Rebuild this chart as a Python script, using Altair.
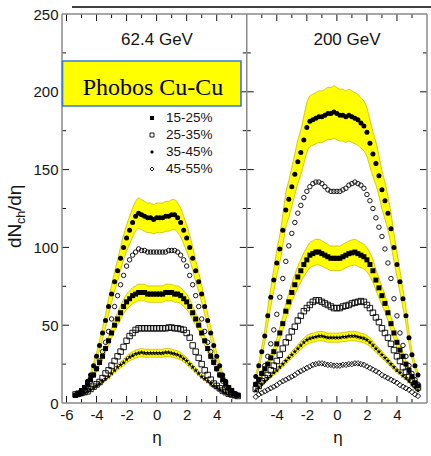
import altair as alt
import pandas as pd

# ---------------- data ----------------
ETA = [-5.4, -5.2, -5.0, -4.8, -4.6, -4.4, -4.2, -4.0, -3.8, -3.6, -3.4, -3.2, -3.0, -2.8,
       -2.6, -2.4, -2.2, -2.0, -1.8, -1.6, -1.4, -1.2, -1.0, -0.8, -0.6, -0.4, -0.2, 0.0,
       0.2, 0.4, 0.6, 0.8, 1.0, 1.2, 1.4, 1.6, 1.8, 2.0, 2.2, 2.4, 2.6, 2.8, 3.0, 3.2,
       3.4, 3.6, 3.8, 4.0, 4.2, 4.4, 4.6, 4.8, 5.0, 5.2, 5.4]

# 62.4 GeV panel
L_FILLED_CIRCLE = [5, 6, 8, 10, 14, 18, 24, 30, 37, 45, 53, 62, 70, 78, 85, 93, 100, 106, 111, 116,
                   120, 122, 121, 120, 119, 119, 118, 119, 119, 119, 120, 120, 121, 121, 119, 116,
                   111, 106, 100, 93, 85, 78, 70, 62, 53, 45, 37, 30, 24, 18, 14, 10, 8, 6, 5]
L_OPEN_CIRCLE = [5, 6, 7, 9, 11, 14, 18, 22, 27, 33, 39, 46, 54, 62, 69, 76, 82, 88, 92, 95, 97, 99,
                 98, 98, 97, 97, 97, 97, 97, 97, 97, 98, 98, 98, 97, 95, 92, 88, 82, 76, 69, 62, 54,
                 46, 39, 33, 27, 22, 18, 14, 11, 9, 7, 6, 5]
L_FILLED_SQUARE = [5, 6, 8, 10, 12, 15, 18, 22, 26, 30, 35, 40, 45, 50, 54, 58, 62, 65, 67, 69, 70,
                   71, 71, 71, 70, 70, 70, 70, 70, 70, 71, 71, 71, 70, 70, 69, 67, 65, 62, 58, 54,
                   50, 45, 40, 35, 30, 26, 22, 18, 15, 12, 10, 8, 6, 5]
L_OPEN_SQUARE = [5.5, 6, 6.5, 7, 7.5, 9, 10.5, 12, 13.5, 16, 19, 21, 24, 27, 30, 33, 36, 40, 43, 45,
                 47, 48, 48, 48, 48, 48, 48, 48, 48, 48, 48, 48.5, 48.5, 48, 48, 47.5, 47, 45, 42,
                 37, 33, 29, 25, 21, 18, 15, 12.5, 11, 9.5, 8, 7, 6, 5.5, 5, 4.5]
L_STAR = [4.5, 5, 5.5, 6.5, 7.5, 8.5, 10, 11, 12.5, 14, 15.5, 17, 19, 21, 23, 24.5, 26, 28, 29.5,
          30.5, 31.5, 32, 32.5, 32, 32, 32, 32, 32, 32, 32, 32.5, 32.5, 32, 31.5, 31, 30, 28.5,
          27, 25, 23, 21, 19, 17, 15.5, 14, 12.5, 11, 10, 8.5, 7.5, 6.5, 5.5, 5, 4.5, 4.5]

# 200 GeV panel
R_FILLED_CIRCLE = [17, 24, 33, 43, 56, 68, 79, 90, 99, 111, 124, 131, 139, 147, 155, 161, 169, 177,
                   181, 182, 183, 184, 184, 185, 186, 186, 187, 186, 185, 185, 184, 185, 184, 183,
                   182, 180, 178, 174, 167, 160, 154, 146, 137, 130, 122, 112, 100, 89, 78, 67, 56,
                   42, 31, 24, 18]
R_OPEN_CIRCLE = [12, 15, 19, 24, 30, 38, 47, 57, 68, 80, 91, 101, 109, 116, 122, 127, 132, 136, 139,
                 141, 142, 142, 141, 139, 137, 136, 136, 136, 136, 137, 138, 140, 141, 142, 141, 140,
                 138, 134, 130, 125, 119, 113, 107, 99, 90, 80, 67, 56, 45, 37, 30, 24, 19, 15, 12]
R_FILLED_SQUARE = [12, 15, 19, 22, 25, 29, 33, 38, 45, 51, 59, 65, 71, 76, 81, 85, 89, 92, 95, 96,
                   97, 97, 96, 95, 94, 93, 93, 93, 93, 94, 95, 96, 96.5, 97, 96, 95, 94, 92, 89, 85,
                   79, 74, 69, 64, 58, 51, 45, 39, 34, 30, 25, 21, 17, 13, 11]
R_OPEN_SQUARE = [9, 11, 14, 16, 18, 21, 24, 27, 31, 35, 39, 42, 46, 49, 53, 56, 59, 61, 63, 65, 66,
                 66, 65, 64, 63, 62, 61, 61, 61, 62, 62.5, 63, 64, 64.5, 65, 65.5, 65, 63, 61, 58,
                 55, 52, 48, 45, 42, 38, 34, 30, 27, 23, 20, 17, 15, 12, 10]
R_STAR = [8, 10, 12, 14, 16, 17.5, 19.5, 21, 23, 25, 27, 29, 31, 33, 35, 37, 39, 40.5, 41.5, 42,
          42.5, 43, 43, 42.5, 42, 42, 42, 42, 42, 42.5, 42.5, 43, 43, 43, 42.5, 42, 41.5, 40.5,
          39, 37, 35, 33, 31, 29, 27, 25, 23, 21, 19.5, 17.5, 16, 14, 12, 10, 8]
R_OPEN_DIAMOND = [4, 5.5, 6.5, 7.5, 8.5, 9.5, 10.5, 11.5, 13, 14, 15, 16, 17, 18, 19.5, 20.5, 21.5,
                  22.5, 23.5, 24.5, 25, 25.5, 25.5, 25, 24.5, 24.5, 24, 24, 24, 24.5, 24.5, 25, 25,
                  25.5, 25.5, 25, 24.5, 23.5, 22.5, 21.5, 20.5, 19.5, 18, 17, 16, 15, 14, 13, 11.5,
                  10.5, 9.5, 8.5, 7, 5.5, 4.5]

BAND_FRAC = {"L1": 0.08, "L3": 0.075, "L5": 0.08, "R1": 0.09, "R3": 0.085, "R5": 0.07}

HEADERS = ["62.4 GeV", "200 GeV"]
BOX_TEXT = "Phobos Cu-Cu"
LEGEND_LABELS = ["15-25%", "25-35%", "35-45%", "45-55%"]
Y_LABELS = [0, 50, 100, 150, 200, 250]
X_LABELS_LEFT = [-6, -4, -2, 0, 2, 4]
X_LABELS_RIGHT = [-4, -2, 0, 2, 4]
X_MINOR = [-5, -3, -1, 1, 3, 5]
Y_MAJOR = [50, 100, 150, 200]
Y_MINOR = [25, 75, 125, 175, 225]
LEFT_DOMAIN = [-6.3, 6.0]
RIGHT_DOMAIN = [-6.0, 6.0]

for s in [L_FILLED_CIRCLE, L_OPEN_CIRCLE, L_FILLED_SQUARE, L_OPEN_SQUARE, L_STAR,
          R_FILLED_CIRCLE, R_OPEN_CIRCLE, R_FILLED_SQUARE, R_OPEN_SQUARE, R_STAR, R_OPEN_DIAMOND]:
    assert len(s) == len(ETA), len(s)

# both panels share one horizontal scale: u = eta + shift
SHIFT_L = -LEFT_DOMAIN[0]                                   # 6.3
SHIFT_R = (LEFT_DOMAIN[1] - LEFT_DOMAIN[0]) - RIGHT_DOMAIN[0]  # 18.3
U_MAX = SHIFT_R + RIGHT_DOMAIN[1]                           # 24.3
U_SPLIT = LEFT_DOMAIN[1] + SHIFT_L                          # 12.3

# ---------------- styling ----------------
YELLOW = "#ffff00"
BAND_EDGE = "#c9b800"
INK = "#151515"
FRAME = "#8a8a8a"
FONT = "Liberation Sans"
SERIF = "Liberation Serif"
STAR = ("M0,-1L0.235,-0.324L0.951,-0.309L0.38,0.124L0.588,0.809L0,0.4L-0.588,0.809"
        "L-0.38,0.124L-0.951,-0.309L-0.235,-0.324Z")
STYLE = {
    "fc": dict(shape="circle", filled=True, size=25),
    "oc": dict(shape="circle", filled=False, size=20),
    "fs": dict(shape="square", filled=True, size=25),
    "os": dict(shape="square", filled=False, size=30),
    "st": dict(shape=STAR, filled=True, size=30),
    "od": dict(shape="diamond", filled=False, size=30),
    "fd": dict(shape="diamond", filled=True, size=22),
}
W = 365
H = 389
XDIV = W * U_SPLIT / U_MAX
MAJ = 7
MIN = 4

label_expr = ("'' + round(datum.value < %s ? datum.value - %s : datum.value - %s)"
              % (U_SPLIT, SHIFT_L, SHIFT_R))
X = alt.X("u:Q", scale=alt.Scale(domain=[0, U_MAX], nice=False, zero=False),
          axis=alt.Axis(values=[e + SHIFT_L for e in X_LABELS_LEFT] +
                               [e + SHIFT_R for e in X_LABELS_RIGHT],
                        labelExpr=label_expr, ticks=False, domain=False, grid=False,
                        labelFontSize=15, labelFont=FONT, labelColor=INK, labelPadding=4,
                        labelFlush=False, labelOverlap=False, labelBound=False, title=None))
Y = alt.Y("v:Q", scale=alt.Scale(domain=[0, 250], nice=False, zero=False),
          axis=alt.Axis(values=Y_LABELS, ticks=False, domain=False, grid=False,
                        labelFontSize=15, labelFont=FONT, labelColor=INK, labelPadding=4,
                        labelFlush=False, labelOverlap=False, title=None))


def one(text=""):
    return pd.DataFrame({"t": [text]})


def sdf(vals, shift):
    return pd.DataFrame({"u": [e + shift for e in ETA], "v": vals})


layers = []

# error bands
BANDS = [("L1", L_FILLED_CIRCLE, SHIFT_L), ("L3", L_FILLED_SQUARE, SHIFT_L),
         ("L5", L_STAR, SHIFT_L), ("R1", R_FILLED_CIRCLE, SHIFT_R),
         ("R3", R_FILLED_SQUARE, SHIFT_R), ("R5", R_STAR, SHIFT_R)]
for key, vals, shift in BANDS:
    f = BAND_FRAC[key]
    df = pd.DataFrame({"u": [e + shift for e in ETA], "v": [v * (1 - f) for v in vals],
                       "hi": [v * (1 + f) for v in vals]})
    layers.append(alt.Chart(df).mark_area(color=YELLOW, stroke=BAND_EDGE, strokeWidth=0.8,
                                          interpolate="monotone")
                  .encode(x=X, y=Y, y2="hi:Q"))

# data points
SERIES = [("st", L_STAR, SHIFT_L), ("os", L_OPEN_SQUARE, SHIFT_L),
          ("fs", L_FILLED_SQUARE, SHIFT_L), ("oc", L_OPEN_CIRCLE, SHIFT_L),
          ("fc", L_FILLED_CIRCLE, SHIFT_L),
          ("od", R_OPEN_DIAMOND, SHIFT_R), ("st", R_STAR, SHIFT_R),
          ("os", R_OPEN_SQUARE, SHIFT_R), ("fs", R_FILLED_SQUARE, SHIFT_R),
          ("oc", R_OPEN_CIRCLE, SHIFT_R), ("fc", R_FILLED_CIRCLE, SHIFT_R)]
for sty, vals, shift in SERIES:
    st = STYLE[sty]
    if st["filled"]:
        m = alt.Chart(sdf(vals, shift)).mark_point(shape=st["shape"], filled=True,
                                                   size=st["size"], color="black", opacity=1)
    else:
        m = alt.Chart(sdf(vals, shift)).mark_point(shape=st["shape"], filled=False,
                                                   size=st["size"], color="black",
                                                   strokeWidth=0.9, opacity=1)
    layers.append(m.encode(x=X, y=Y))

# inward ticks on x (bottom and top of both panels)
x_major = [e + SHIFT_L for e in X_LABELS_LEFT] + [e + SHIFT_R for e in X_LABELS_RIGHT]
x_minor = [e + SHIFT_L for e in X_MINOR] + [e + SHIFT_R for e in X_MINOR]
for vals, L in [(x_major, MAJ), (x_minor, MIN)]:
    df = pd.DataFrame({"u": vals})
    layers.append(alt.Chart(df).mark_rule(color=INK, strokeWidth=1)
                  .encode(x=X, y=alt.value(H), y2=alt.value(H - L)))
    layers.append(alt.Chart(df).mark_rule(color=INK, strokeWidth=1)
                  .encode(x=X, y=alt.value(0), y2=alt.value(L)))
# inward ticks on y (left edge, both sides of the divider, right edge)
for vals, L in [(Y_MAJOR, MAJ), (Y_MINOR, MIN)]:
    df = pd.DataFrame({"v": vals})
    for x1, x2 in [(0, L), (XDIV - L, XDIV + L), (W - L, W)]:
        layers.append(alt.Chart(df).mark_rule(color=INK, strokeWidth=1)
                      .encode(y=Y, x=alt.value(x1), x2=alt.value(x2)))

# frames
fr = alt.Chart(one()).mark_rule(color=FRAME, strokeWidth=1.5)
layers.append(fr.encode(x=alt.value(0), x2=alt.value(W), y=alt.value(0)))
layers.append(fr.encode(x=alt.value(0), x2=alt.value(W), y=alt.value(H)))
for xx in [0, XDIV, W]:
    layers.append(fr.encode(x=alt.value(xx), y=alt.value(0), y2=alt.value(H)))
# stray line at the top of the slide
layers.append(alt.Chart(one()).mark_rule(color="black", strokeWidth=1.5)
              .encode(x=alt.value(10), x2=alt.value(W + 4), y=alt.value(-7)))

# panel headers
for txt, xx in zip(HEADERS, [95, 285]):
    layers.append(alt.Chart(one(txt)).mark_text(font=FONT, fontSize=17, color=INK,
                                                align="center", baseline="middle")
                  .encode(text="t:N", x=alt.value(xx), y=alt.value(26)))
# eta titles
for xx in [95, 276]:
    layers.append(alt.Chart(one("η")).mark_text(font=FONT, fontSize=17, color=INK,
                                               align="center", baseline="alphabetic")
                  .encode(text="t:N", x=alt.value(xx), y=alt.value(H + 40)))

# Phobos box
layers.append(alt.Chart(one()).mark_rect(fill=YELLOW, stroke="#3b7ad6", strokeWidth=1.6)
              .encode(x=alt.value(0.5), x2=alt.value(179), y=alt.value(47), y2=alt.value(92)))
layers.append(alt.Chart(one(BOX_TEXT)).mark_text(font=SERIF, fontSize=24, color="black",
                                                 align="center", baseline="alphabetic")
              .encode(text="t:N", x=alt.value(91), y=alt.value(81)))
# legend
LEG_STYLE = ["fs", "os", "fd", "od"]
LEG_Y = [104, 121, 138, 155]
for lab, sty, yy in zip(LEGEND_LABELS, LEG_STYLE, LEG_Y):
    st = STYLE[sty]
    layers.append(alt.Chart(one()).mark_point(shape=st["shape"], filled=st["filled"], size=16,
                                              color="black", strokeWidth=0.9, opacity=1)
                  .encode(x=alt.value(90), y=alt.value(yy)))
    layers.append(alt.Chart(one(lab)).mark_text(font=FONT, fontSize=13.5, color=INK,
                                                align="left", baseline="middle")
                  .encode(text="t:N", x=alt.value(104), y=alt.value(yy)))
# y title dN_ch/deta
for txt, xx, yy, fs in [("dN", -41, 234, 19), ("ch", -37, 210, 12.5), ("/dη", -41, 197, 19)]:
    layers.append(alt.Chart(one(txt)).mark_text(font=FONT, fontSize=fs, color=INK, angle=270,
                                                align="left", baseline="alphabetic")
                  .encode(text="t:N", x=alt.value(xx), y=alt.value(yy)))

chart = (alt.layer(*layers)
         .properties(width=W, height=H, background="white",
                     autosize=alt.AutoSizeParams(type="none"),
                     padding={"left": 62, "top": 14, "right": 4, "bottom": 53})
         .configure_view(stroke=None))

chart.save("out.html", embed_options={"renderer": "svg", "actions": False})
